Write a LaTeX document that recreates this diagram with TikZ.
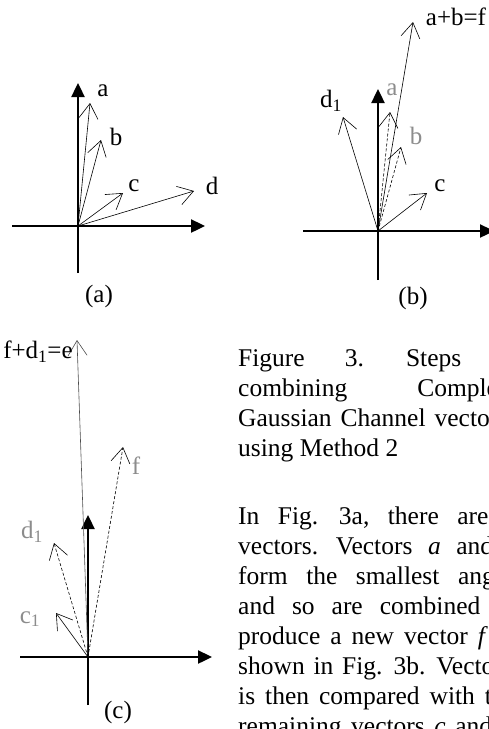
\documentclass[tikz,border=0pt]{standalone}
\usepackage{fontspec}
\setmainfont{Liberation Serif}
\usetikzlibrary{arrows.meta}
\definecolor{lblgray}{gray}{0.55}
\tikzset{
  axis/.style={line width=2.4pt, -{Triangle[length=14pt,width=13pt]}},
  vec/.style={line width=0.6pt, -{Straight Barb[length=15pt,width=19pt]}},
  dvec/.style={vec, dash pattern=on 3pt off 2pt},
  lbl/.style={inner sep=0pt, font=\fontsize{25}{28}\selectfont},
  glbl/.style={lbl, text=lblgray},
  body/.style={anchor=base west, inner sep=0pt, font=\fontsize{25.5}{30}\selectfont},
}
\begin{document}
\begin{tikzpicture}[x=1pt, y=-1pt]
	\useasboundingbox (0,0) rectangle (489,729);
	\clip (0,0) rectangle (489,729);
	
	% Panel (a)
	\coordinate (Oa) at (78,226);
	\coordinate (xa0) at (12,226);
	\coordinate (xa1) at (205,226);
	\coordinate (ya0) at (78,273);
	\coordinate (ya1) at (78,83);
	\draw[axis] (xa0) -- (xa1);
	\draw[axis] (ya0) -- (ya1);
	\coordinate (aa) at (90,103);
	\coordinate (ba) at (101,140);
	\coordinate (ca) at (123,193);
	\coordinate (da) at (194,191);
	\draw[vec] (Oa) -- (aa);
	\draw[vec] (Oa) -- (ba);
	\draw[vec] (Oa) -- (ca);
	\draw[vec] (Oa) -- (da);
	\node[lbl] (la) at (103,91) {a};
	\node[lbl] (lb) at (116,137) {b};
	\node[lbl] (lc) at (134,186) {c};
	\node[lbl] (ld) at (212,186) {d};
	\node[lbl] (capa) at (99,296) {(a)};
	
	% Panel (b)
	\coordinate (Ob) at (378,231);
	\coordinate (xb0) at (303,231);
	\coordinate (xb1) at (494,231);
	\coordinate (yb0) at (378,280);
	\coordinate (yb1) at (378,89);
	\draw[axis] (xb0) -- (xb1);
	\draw[axis] (yb0) -- (yb1);
	\coordinate (fb) at (413,22);
	\coordinate (db) at (343,117);
	\coordinate (ab) at (390,112);
	\coordinate (bb) at (401,147);
	\coordinate (cb) at (427,193);
	\draw[vec] (Ob) -- (fb);
	\draw[vec] (Ob) -- (db);
	\draw[dvec] (Ob) -- (ab);
	\draw[dvec] (Ob) -- (bb);
	\draw[vec] (Ob) -- (cb);
	\node[lbl] (lfb) at (456,17) {a+b=f};
	\node[lbl] (ldb) at (331,101) {d\textsubscript{1}};
	\node[glbl] (lab) at (392,90) {a};
	\node[glbl] (lbb) at (416,136) {b};
	\node[lbl] (lcb) at (440,186) {c};
	\node[lbl] (capb) at (413,298) {(b)};
	
	% Panel (c)
	\coordinate (Oc) at (88,657);
	\coordinate (xc0) at (20,657);
	\coordinate (xc1) at (212,657);
	\coordinate (yc0) at (88,705);
	\coordinate (yc1) at (88,515);
	\draw[axis] (xc0) -- (xc1);
	\draw[axis] (yc0) -- (yc1);
	\coordinate (ec) at (77,340);
	\coordinate (fc) at (123,447);
	\coordinate (dc) at (54,543);
	\coordinate (cc) at (56,613);
	\draw[vec, draw=black!70] (Oc) -- (ec);
	\draw[dvec] (Oc) -- (fc);
	\draw[dvec] (Oc) -- (dc);
	\draw[vec] (Oc) -- (cc);
	\node[lbl] (lec) at (38,352) {f+d\textsubscript{1}=e};
	\node[glbl] (lfc) at (136,466) {f};
	\node[glbl] (ldc) at (32,532) {d\textsubscript{1}};
	\node[glbl] (lcc) at (30,619) {c\textsubscript{1}};
	\node[lbl] (capc) at (118,712) {(c)};
	
	% Caption and text
	\node[body] (cap1) at (238,366) {\spaceskip=40pt Figure 3. Steps in};
	\node[body] (cap2) at (238,396) {\spaceskip=70pt combining Complex};
	\node[body] (cap3) at (238,426) {\spaceskip=9pt Gaussian Channel vectors};
	\node[body] (cap4) at (238,456) {using Method 2};
	\node[body] (par1) at (238,524) {\spaceskip=18.5pt In Fig. 3a, there are four};
	\node[body] (par2) at (238,554) {\spaceskip=15.6pt vectors. Vectors \textit{a} and \textit{b}};
	\node[body] (par3) at (238,584) {\spaceskip=18.5pt form the smallest angle};
	\node[body] (par4) at (238,614) {\spaceskip=17pt and so are combined to};
	\node[body] (par5) at (238,644) {\spaceskip=10pt produce a new vector \textit{f} as};
	\node[body] (par6) at (238,674) {\spaceskip=8.8pt shown in Fig. 3b. Vector \textit{f}};
	\node[body] (par7) at (238,704) {\spaceskip=10pt is then compared with the};
	\node[body] (par8) at (238,734) {\spaceskip=9.6pt remaining vectors \textit{c} and \textit{d}.};
	
\end{tikzpicture}
\end{document}
